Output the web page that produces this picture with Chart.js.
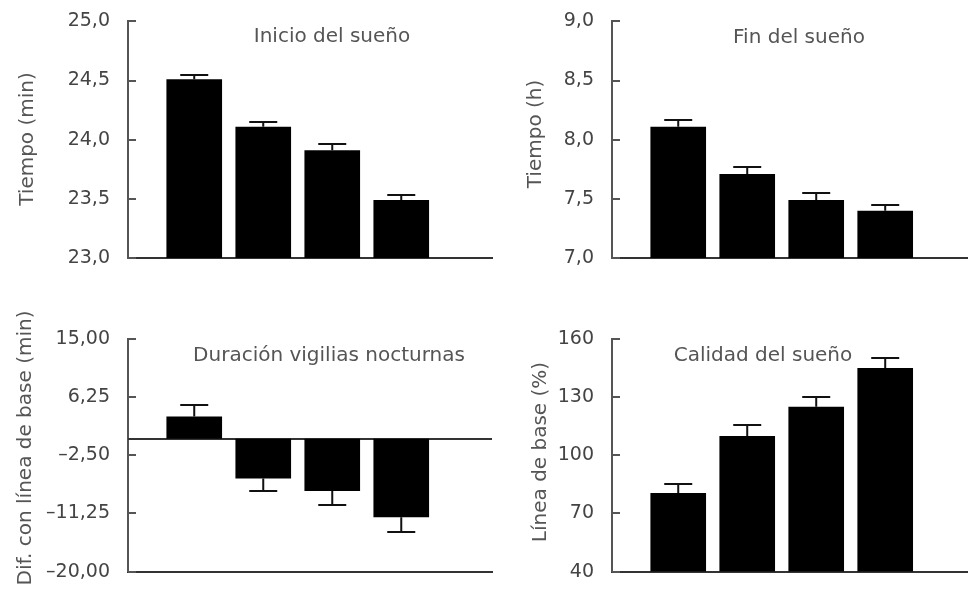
<!DOCTYPE html>
<html>
<head>
<meta charset="utf-8">
<script src="https://cdn.jsdelivr.net/npm/chart.js@4.4.1/dist/chart.umd.min.js"></script>
<style>
  html, body { margin: 0; padding: 0; background: #fff; }
  #wrap { position: relative; width: 968px; height: 593px; overflow: hidden; }
  canvas { position: absolute; }
</style>
</head>
<body>
<div id="wrap">
  <canvas id="c1" width="500" height="290" style="left:0;top:0"></canvas>
  <canvas id="c2" width="484" height="290" style="left:484px;top:0"></canvas>
  <canvas id="c3" width="500" height="303" style="left:0;top:290px"></canvas>
  <canvas id="c4" width="484" height="303" style="left:484px;top:290px"></canvas>
</div>
<script>
// Four groups, one bar each per panel
const grupos = [1, 2, 3, 4];

// Inicio del sueño
const inicioValores = [24.51, 24.11, 23.91, 23.49];
const inicioError   = [0.04, 0.04, 0.05, 0.04];
const inicioTicks   = [23.0, 23.5, 24.0, 24.5, 25.0];

// Fin del sueño
const finValores = [8.11, 7.71, 7.49, 7.40];
const finError   = [0.06, 0.06, 0.06, 0.05];
const finTicks   = [7.0, 7.5, 8.0, 8.5, 9.0];

// Duración vigilias nocturnas
const vigiliasValores = [3.35, -5.98, -7.87, -11.81];
const vigiliasError   = [1.75, 1.9, 2.05, 2.2];
const vigiliasTicks   = [-20, -11.25, -2.5, 6.25, 15];

// Calidad del sueño
const calidadValores = [80.5, 110, 125, 145];
const calidadError   = [4.5, 5.5, 5, 5];
const calidadTicks   = [40, 70, 100, 130, 160];

Chart.defaults.font.family = "'DejaVu Sans', sans-serif";

function fmt(v, decimals) {
  return v.toFixed(decimals).replace('.', ',').replace('-', '\u2013');
}

// Error bars, inward tick marks, zero reference line and panel texts
const panelDecor = {
  id: 'panelDecor',
  beforeDatasetsDraw(chart, args, opts) {
    if (!opts.zeroLine) return;
    const { ctx, chartArea } = chart;
    const y0 = Math.round(chart.scales.y.getPixelForValue(0));
    ctx.save();
    ctx.strokeStyle = '#333';
    ctx.lineWidth = 2;
    ctx.beginPath();
    ctx.moveTo(chartArea.left, y0);
    ctx.lineTo(chartArea.right, y0);
    ctx.stroke();
    ctx.restore();
  },
  afterDatasetsDraw(chart, args, opts) {
    const { ctx, chartArea } = chart;
    const ys = chart.scales.y;
    const ds = chart.data.datasets[0];
    ctx.save();
    // error bars
    ctx.strokeStyle = '#111';
    ctx.lineWidth = 2;
    chart.getDatasetMeta(0).data.forEach((bar, i) => {
      const v = ds.data[i].y;
      const end = v + (v < 0 ? -1 : 1) * opts.errors[i];
      const y0 = ys.getPixelForValue(v);
      const y1 = Math.round(ys.getPixelForValue(end));
      ctx.beginPath();
      ctx.moveTo(bar.x, y0);
      ctx.lineTo(bar.x, y1);
      ctx.moveTo(bar.x - 14, y1);
      ctx.lineTo(bar.x + 14, y1);
      ctx.stroke();
    });
    // tick marks pointing into the plot
    ctx.strokeStyle = '#555';
    ctx.lineWidth = 2;
    ys.ticks.forEach(t => {
      const py = Math.round(ys.getPixelForValue(t.value));
      ctx.beginPath();
      ctx.moveTo(chartArea.left, py);
      ctx.lineTo(chartArea.left + 8, py);
      ctx.stroke();
    });
    // panel title
    ctx.fillStyle = '#555';
    ctx.font = "20px 'DejaVu Sans', sans-serif";
    ctx.textAlign = 'center';
    ctx.textBaseline = 'middle';
    ctx.fillText(opts.title.text, opts.title.x, opts.title.y);
    // y axis title
    ctx.translate(opts.yTitle.x, opts.yTitle.y);
    ctx.rotate(-Math.PI / 2);
    ctx.fillText(opts.yTitle.text, 0, 0);
    ctx.restore();
  }
};

function panel(id, cfg) {
  return new Chart(document.getElementById(id), {
    type: 'bar',
    data: {
      datasets: [{
        data: grupos.map((g, i) => ({ x: g, y: cfg.values[i] })),
        backgroundColor: '#000',
        borderWidth: 0,
        barPercentage: 0.84,
        categoryPercentage: 1
      }]
    },
    options: {
      responsive: false,
      animation: false,
      events: [],
      layout: { padding: cfg.padding },
      plugins: {
        legend: { display: false },
        tooltip: { enabled: false },
        panelDecor: {
          errors: cfg.errors,
          zeroLine: !!cfg.zeroLine,
          title: cfg.title,
          yTitle: cfg.yTitle
        }
      },
      scales: {
        x: {
          type: 'linear',
          offset: false,
          min: 0.04,
          max: cfg.xMax,
          grid: { display: false, offset: false },
          ticks: { display: false },
          border: { display: true, color: '#333', width: 2 },
          afterFit(s) { s.height = 0; }
        },
        y: {
          min: cfg.ticks[0],
          max: cfg.ticks[cfg.ticks.length - 1],
          afterBuildTicks(s) { s.ticks = cfg.ticks.map(v => ({ value: v })); },
          ticks: {
            callback: v => fmt(v, cfg.decimals),
            color: '#444',
            font: { size: 19 },
            padding: 10
          },
          grid: { display: false },
          border: { display: true, color: '#555', width: 2 },
          afterFit(s) { s.width = 128; }
        }
      }
    },
    plugins: [panelDecor]
  });
}

panel('c1', {
  values: inicioValores, errors: inicioError, ticks: inicioTicks, decimals: 1,
  padding: { left: 0, top: 19, right: 8, bottom: 32 }, xMax: 5.315,
  title: { text: 'Inicio del sueño', x: 332, y: 37 },
  yTitle: { text: 'Tiempo (min)', x: 28, y: 139 }
});

panel('c2', {
  values: finValores, errors: finError, ticks: finTicks, decimals: 1,
  padding: { left: 0, top: 19, right: 0, bottom: 32 }, xMax: 5.2,
  title: { text: 'Fin del sueño', x: 315, y: 38 },
  yTitle: { text: 'Tiempo (h)', x: 52, y: 134 }
});

panel('c3', {
  values: vigiliasValores, errors: vigiliasError, ticks: vigiliasTicks, decimals: 2,
  padding: { left: 0, top: 49, right: 8, bottom: 16 }, xMax: 5.315, zeroLine: true,
  title: { text: 'Duración vigilias nocturnas', x: 329, y: 66 },
  yTitle: { text: 'Dif. con línea de base (min)', x: 26, y: 158 }
});

panel('c4', {
  values: calidadValores, errors: calidadError, ticks: calidadTicks, decimals: 0,
  padding: { left: 0, top: 49, right: 0, bottom: 16 }, xMax: 5.2,
  title: { text: 'Calidad del sueño', x: 279, y: 66 },
  yTitle: { text: 'Línea de base (%)', x: 57, y: 162 }
});
</script>
</body>
</html>
